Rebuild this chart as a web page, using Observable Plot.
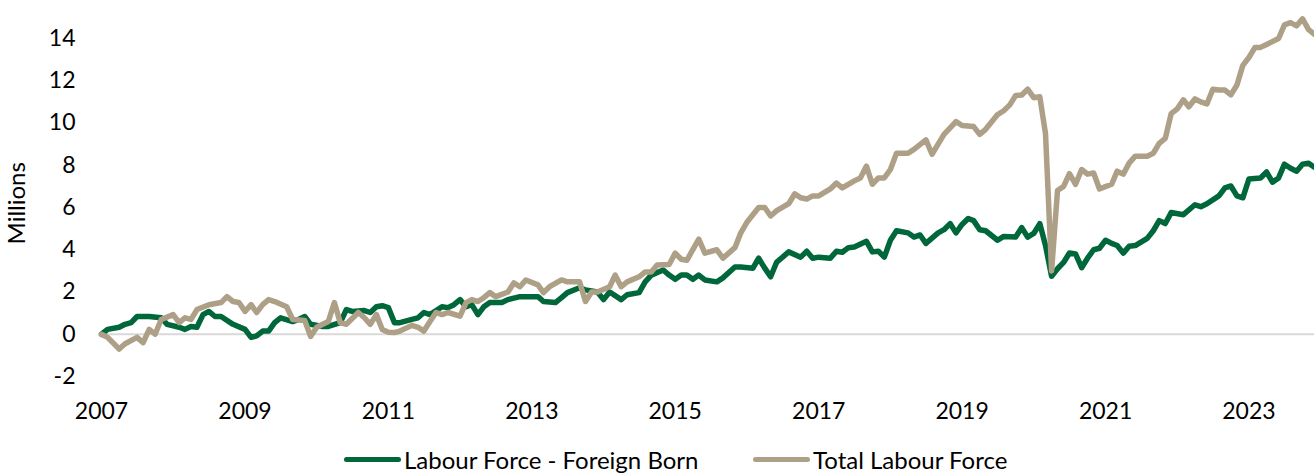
<!DOCTYPE html>
<html><head><meta charset="utf-8">
<script src="https://cdn.jsdelivr.net/npm/d3@7"></script>
<script src="https://cdn.jsdelivr.net/npm/@observablehq/plot@0.6"></script>
<style>
body{margin:0;background:#fff;}
#wrap{position:relative;width:1314px;height:473px;overflow:hidden;font-family:Lato,sans-serif;}
.leg{position:absolute;top:446px;height:26px;display:flex;align-items:center;font-size:24px;color:#000;white-space:nowrap;}
.sw{width:57px;height:5px;border-radius:3px;margin-right:3px;}
</style></head><body><div id="wrap"></div>
<script>
// Series labels and colours
const seriesNames = ["Labour Force - Foreign Born", "Total Labour Force"];
const seriesColors = ["#00673a", "#ae9f87"];
const yLabel = "Millions";
// First month of the monthly series, and x tick years
const firstYear = 2007;
const xTickYears = [2007, 2009, 2011, 2013, 2015, 2017, 2019, 2021, 2023];
const yTicks = [-2, 0, 2, 4, 6, 8, 10, 12, 14];

// Monthly values (millions, change since Jan 2007); one row per year Jan..Dec, null = not read
const foreignBorn = [
  0.0, 0.23, null, 0.33, 0.47, 0.55, 0.84, null, 0.84, null, 0.78, 0.47,          // 2007
  null, 0.33, 0.23, 0.37, 0.33, 0.93, 1.08, 0.84, 0.84, null, 0.47, null,         // 2008
  0.23, -0.15, -0.08, 0.15, 0.15, 0.55, 0.78, null, 0.6, 0.7, 0.84, 0.47,         // 2009
  null, 0.37, 0.37, null, 0.55, 1.17, 1.08, null, 1.12, 1.03, 1.3, 1.35,          // 2010
  1.26, 0.55, 0.55, null, 0.7, 0.78, 1.03, 0.93, null, 1.3, 1.26, 1.4,            // 2011
  1.64, 1.3, 1.4, 0.93, 1.3, 1.5, null, 1.5, 1.64, null, 1.78, 1.78,              // 2012
  null, 1.78, 1.55, null, 1.5, 1.73, 1.97, null, 2.2, 2.1, null, 2.0,             // 2013
  1.64, 2.0, null, 1.64, 1.87, null, 1.97, 2.48, 2.8, null, 3.04, 2.8,            // 2014
  2.6, 2.8, 2.8, 2.6, 2.8, 2.57, null, 2.48, 2.67, null, 3.18, 3.18,              // 2015
  null, 3.13, 3.6, 3.13, 2.72, 3.42, 3.65, 3.9, null, 3.65, 3.93, 3.6,            // 2016
  3.65, null, 3.6, 3.93, 3.88, 4.1, 4.13, null, 4.4, 3.9, 3.93, 3.65,             // 2017
  4.45, 4.9, null, 4.8, 4.6, 4.7, 4.3, null, 4.8, 4.95, 5.24, 4.8,                // 2018
  5.2, 5.48, 5.38, 4.95, 4.9, null, 4.45, 4.63, null, 4.6, 5.05, 4.6,             // 2019
  4.77, 5.24, 4.2, 2.75, 3.1, 3.4, 3.85, 3.8, 3.15, 3.6, 4.0, 4.07,               // 2020
  4.45, 4.3, 4.2, 3.84, 4.17, 4.2, null, 4.54, 4.9, 5.38, 5.24, 5.76,             // 2021
  null, 5.66, null, 6.13, 6.04, 6.18, null, 6.55, 6.93, 7.02, 6.55, 6.46,         // 2022
  7.35, null, 7.4, 7.68, 7.2, 7.4, 8.05, 7.86, 7.72, 8.05, 8.1, 7.9               // 2023
];
const totalLabourForce = [
  0.0, -0.15, null, -0.7, -0.45, null, -0.15, -0.4, 0.23, 0.0, 0.7, null,         // 2007
  0.93, 0.55, 0.78, 0.7, 1.17, null, 1.4, null, 1.5, 1.78, 1.55, 1.5,             // 2008
  1.08, 1.4, 1.03, 1.4, 1.64, 1.55, null, 1.3, 0.7, null, 0.65, -0.1,             // 2009
  0.33, null, 0.6, 1.5, 0.55, 0.47, null, 1.03, 0.78, 0.47, 0.93, 0.23,           // 2010
  0.1, 0.08, 0.15, null, 0.42, 0.33, 0.15, 0.6, 1.03, 0.93, 1.03, null,           // 2011
  0.86, 1.5, 1.64, 1.55, 1.73, 1.97, 1.78, null, 2.0, 2.43, 2.25, 2.57,           // 2012
  null, 2.34, 1.97, 2.25, null, 2.57, 2.48, null, 2.48, 1.55, 2.0, 2.0,           // 2013
  null, 2.25, 2.8, 2.25, 2.48, null, 2.72, 2.95, 2.95, 3.28, null, 3.3,           // 2014
  3.84, 3.55, 3.5, null, 4.5, 3.84, null, 4.0, 3.6, null, 4.1, 4.8,               // 2015
  5.3, null, 6.0, 6.0, 5.6, 5.85, null, 6.18, 6.65, 6.46, 6.4, 6.55,              // 2016
  6.55, null, 6.88, 7.16, 6.93, null, 7.26, 7.4, 7.96, 7.1, 7.4, 7.4,             // 2017
  7.8, 8.57, null, 8.57, 8.75, null, 9.2, 8.52, 9.0, 9.46, null, 10.07,           // 2018
  9.88, null, 9.83, 9.46, 9.7, null, 10.4, 10.58, 10.86, 11.3, 11.33, 11.6,       // 2019
  11.2, 11.24, 9.5, 3.0, 6.8, 7.0, 7.6, 7.1, 7.8, 7.58, 7.63, 6.88,               // 2020
  null, 7.1, 7.72, 7.58, 8.1, 8.43, null, 8.43, 8.57, 9.04, 9.27, 10.44,          // 2021
  10.67, 11.1, 10.77, 11.14, 11.0, 10.9, 11.6, 11.56, 11.56, 11.33, 11.8, 12.73,  // 2022
  13.1, 13.58, 13.58, 13.72, null, 14.0, 14.65, 14.75, 14.6, 14.93, 14.42, 14.2   // 2023
];

const monthDate = i => new Date(Date.UTC(firstYear, i, 1));
const toRows = (arr, series) => arr.map((v, i) => ({date: monthDate(i), value: v, series})).filter(d => d.value !== null);
const fbRows = toRows(foreignBorn, seriesNames[0]);
const tlRows = toRows(totalLabourForce, seriesNames[1]);
const lastIndex = Math.max(foreignBorn.length, totalLabourForce.length) - 1;

const chart = Plot.plot({
  width: 1314,
  height: 436,
  marginLeft: 101,
  marginRight: 0,
  marginTop: 0,
  marginBottom: 60,
  style: {fontFamily: "Lato, sans-serif", fontSize: "23px", color: "#000", background: "#fff", overflow: "visible"},
  x: {type: "utc", domain: [monthDate(0), monthDate(lastIndex)]},
  y: {domain: [-2, 15.8]},
  marks: [
    Plot.ruleY([0], {stroke: "#d9d9d9", strokeWidth: 2}),
    Plot.axisY({ticks: yTicks, tickSize: 0, tickPadding: 26, label: null, fontSize: 23, tickFormat: d => d < 0 ? "-" + Math.abs(d) : String(d)}),
    Plot.axisX({ticks: xTickYears.map(y => new Date(Date.UTC(y, 0, 1))), tickSize: 0, tickPadding: 26, tickFormat: d3.utcFormat("%Y"), label: null, fontSize: 23}),
    Plot.text([yLabel], {x: () => monthDate(0), y: () => 6.2, text: d => d, textAnchor: "middle", rotate: -90, dx: -84, fontSize: 24, fill: "#000"}),
    Plot.line(fbRows, {x: "date", y: "value", stroke: seriesColors[0], strokeWidth: 5.5, strokeLinejoin: "round", strokeLinecap: "round"}),
    Plot.line(tlRows, {x: "date", y: "value", stroke: seriesColors[1], strokeWidth: 5.5, strokeLinejoin: "round", strokeLinecap: "round"})
  ]
});

const wrap = document.getElementById("wrap");
wrap.appendChild(chart);
const legendLeft = [344, 753];
seriesNames.forEach((name, i) => {
  const item = document.createElement("div");
  item.className = "leg";
  item.style.left = legendLeft[i] + "px";
  const sw = document.createElement("div");
  sw.className = "sw";
  sw.style.background = seriesColors[i];
  const label = document.createElement("span");
  label.textContent = name;
  item.appendChild(sw);
  item.appendChild(label);
  wrap.appendChild(item);
});
</script></body></html>
